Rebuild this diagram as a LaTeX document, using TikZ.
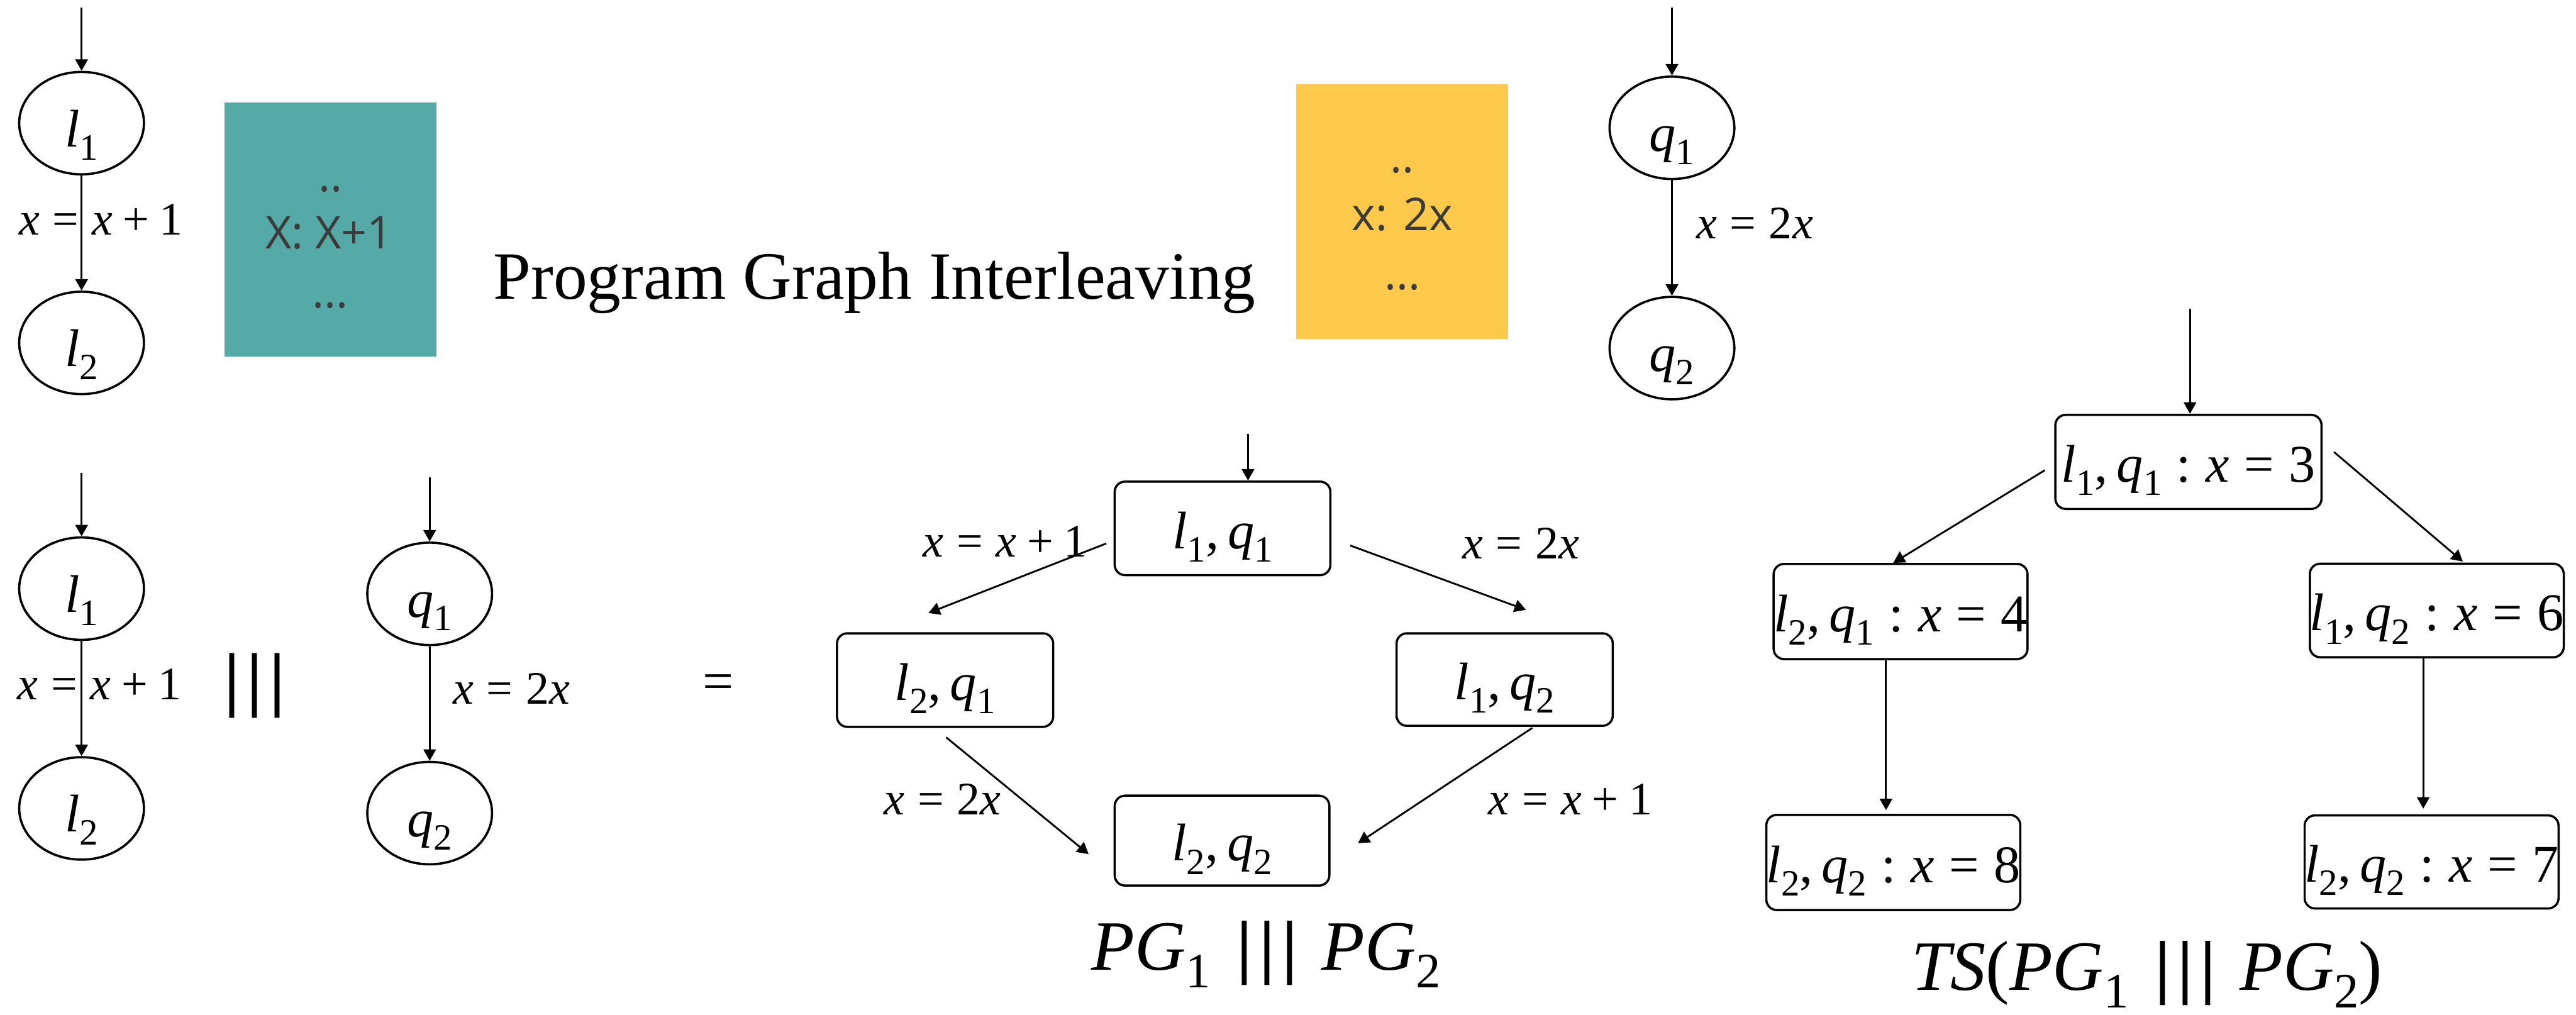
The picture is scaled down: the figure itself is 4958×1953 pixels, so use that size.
\documentclass[tikz,border=0pt]{standalone}
\usepackage{fontspec}
\usepackage{graphicx}
\setmainfont{Liberation Serif}
\newfontfamily\boxfont{Open Sans}
\usetikzlibrary{arrows.meta,calc,shapes.geometric}
\definecolor{tealc}{HTML}{55AAA8}
\definecolor{yellowc}{HTML}{FFCA4B}
\definecolor{codegrey}{HTML}{3B3B3B}
\newcommand\mv[1]{{\itshape #1}}
\newcommand\sbx[1]{\raisebox{-0.25em}{\scalebox{0.7}{#1}}}
\newcommand\tk{\hspace{0.278em}}
\newcommand\md{\hspace{0.222em}}
\newcommand\tn{\hspace{0.167em}}
\newcommand\st[2]{\mv{l}\sbx{#1},\tn\mv{q}\sbx{#2}}
\newcommand\bars{{\bfseries|\kern0.1em|\kern0.1em|}}
\begin{document}
\begin{tikzpicture}[x=0.01cm,y=-0.01cm,
  every node/.style={inner sep=0pt},
  arr/.style={-{Triangle[length=0.22cm,width=0.24cm]}, line width=1pt},
  loc/.style={draw, ellipse, line width=1.25pt, minimum width=2.40cm, minimum height=1.97cm,
    text height=0.9cm, text depth=0cm, font=\fontsize{29}{34}\selectfont},
  sbox/.style={draw, rounded corners=0.2cm, line width=1.2pt, text height=0.78cm, text depth=0cm,
    font=\fontsize{29}{34}\selectfont},
  lbl/.style={font=\fontsize{25.5}{30}\selectfont, anchor=base west},
  code/.style={font=\boxfont\fontsize{24.7}{30}\selectfont, text=codegrey, anchor=base},
  capt/.style={font=\fontsize{38.7}{46}\selectfont, anchor=base}
]
\useasboundingbox (0,0) rectangle (4958,1953);

% ---------- top: PG1 ----------
\node[loc] (l1a) at (157,237) {\mv{l}\sbx{1}};
\node[loc] (l2a) at (157,660) {\mv{l}\sbx{2}};
\coordinate (l1ain) at (157,14);
\draw[arr] (l1ain) -- (l1a.north);
\draw[arr] (l1a) -- (l2a);
\node[lbl] (e1) at (36,452) {\mv{x}\tk=\tk\mv{x}\md+\md1};

\node[fill=tealc, minimum width=4.08cm, minimum height=4.89cm] (code1) at (636,441.5) {};
\node[code] (c1a) at (636,368) {..};
\node[code] (c1b) at (634,479) {X: X+1};
\node[code] (c1c) at (636,592) {...};

\node[font=\fontsize{37}{44}\selectfont, anchor=base west] (title) at (949,575) {Program Graph Interleaving};

\node[fill=yellowc, minimum width=4.08cm, minimum height=4.90cm] (code2) at (2699,407) {};
\node[code] (c2a) at (2699,332) {..};
\node[code] (c2b) at (2699,444) {x: 2x};
\node[code] (c2c) at (2699,557) {...};

% ---------- top: PG2 ----------
\node[loc] (q1a) at (3218,246) {\mv{q}\sbx{1}};
\node[loc] (q2a) at (3218,670) {\mv{q}\sbx{2}};
\coordinate (q1ain) at (3218,14);
\draw[arr] (q1ain) -- (q1a.north);
\draw[arr] (q1a) -- (q2a);
\node[lbl] (e2) at (3264,459) {\mv{x}\tk=\tk2\mv{x}};

% ---------- bottom left ----------
\node[loc] (l1b) at (157,1133) {\mv{l}\sbx{1}};
\node[loc] (l2b) at (157,1556) {\mv{l}\sbx{2}};
\coordinate (l1bin) at (157,910);
\draw[arr] (l1bin) -- (l1b.north);
\draw[arr] (l1b) -- (l2b);
\node[lbl] (e3) at (33,1347) {\mv{x}\tk=\tk\mv{x}\md+\md1};

\node[font=\fontsize{39}{44}\selectfont] (par1) at (490,1320) {\bars};

\node[loc] (q1b) at (827,1143) {\mv{q}\sbx{1}};
\node[loc] (q2b) at (827,1565) {\mv{q}\sbx{2}};
\coordinate (q1bin) at (827,919);
\draw[arr] (q1bin) -- (q1b.north);
\draw[arr] (q1b) -- (q2b);
\node[lbl] (e4) at (871,1355) {\mv{x}\tk=\tk2\mv{x}};

\node[font=\fontsize{30}{34}\selectfont] (eq) at (1382,1322) {=};

% ---------- PG1 ||| PG2 ----------
\node[sbox, minimum width=4.15cm, minimum height=1.80cm] (b11) at (2353,1017) {\st11};
\node[sbox, minimum width=4.16cm, minimum height=1.80cm] (b21) at (1819,1309) {\st21};
\node[sbox, minimum width=4.16cm, minimum height=1.78cm] (b12) at (2896,1308) {\st12};
\node[sbox, minimum width=4.13cm, minimum height=1.73cm] (b22) at (2352,1618) {\st22};
\coordinate (b11in) at (2402,835);
\draw[arr] (b11in) -- (b11in |- b11.north);
\draw[arr] ($(b11.west)+(-14,29)$) -- ($(b21.north)+(-32,-37)$);
\draw[arr] ($(b11.east)+(36,33)$) -- ($(b12.north)+(41,-43)$);
\draw[arr] ($(b21.south)+(2,18)$) -- ($(b22.west)+(-48,26)$);
\draw[arr] ($(b12.south)+(53,2)$) -- ($(b22.east)+(53,5)$);
\node[lbl] (e5) at (1776,1072) {\mv{x}\tk=\tk\mv{x}\md+\md1};
\node[lbl] (e6) at (2814,1076) {\mv{x}\tk=\tk2\mv{x}};
\node[lbl] (e7) at (1701,1568) {\mv{x}\tk=\tk2\mv{x}};
\node[lbl] (e8) at (2864,1568) {\mv{x}\tk=\tk\mv{x}\md+\md1};
\node[capt] (cap1) at (2437,1867) {\mv{PG}\sbx{1}\hspace{0.375em}\bars\hspace{0.34em}\mv{PG}\sbx{2}};

% ---------- TS(PG1 ||| PG2) ----------
\node[sbox, minimum width=5.12cm, minimum height=1.81cm] (t0) at (4212,889) {\st11\tk:\tk\mv{x}\tk=\tk3};
\node[sbox, minimum width=4.72cm, minimum height=1.83cm] (t1) at (3658,1177) {\st21\tk:\tk\mv{x}\tk=\tk4};
\node[sbox, minimum width=4.65cm, minimum height=1.80cm] (t2) at (4690,1175) {\st12\tk:\tk\mv{x}\tk=\tk6};
\node[sbox, minimum width=4.71cm, minimum height=1.83cm] (t3) at (3644,1660) {\st22\tk:\tk\mv{x}\tk=\tk8};
\node[sbox, minimum width=4.72cm, minimum height=1.79cm] (t4) at (4680,1659) {\st22\tk:\tk\mv{x}\tk=\tk7};
\coordinate (t0in) at (4215,594);
\draw[arr] (t0in) -- (t0in |- t0.north);
\draw[arr] ($(t0.west)+(-18,16)$) -- ($(t1.north)+(-14,0)$);
\draw[arr] ($(t0.east)+(22,-19)$) -- ($(t2.north)+(50,-2)$);
\draw[arr] ($(t1.south)+(-28,0)$) -- ($(t3.north)+(-14,-7)$);
\draw[arr] ($(t2.south)+(-26,0)$) -- ($(t4.north)+(-16,-11)$);
\node[capt] (cap2) at (4132,1906) {\mv{TS}(\mv{PG}\sbx{1}\hspace{0.375em}\bars\hspace{0.34em}\mv{PG}\sbx{2})};
\end{tikzpicture}
\end{document}
